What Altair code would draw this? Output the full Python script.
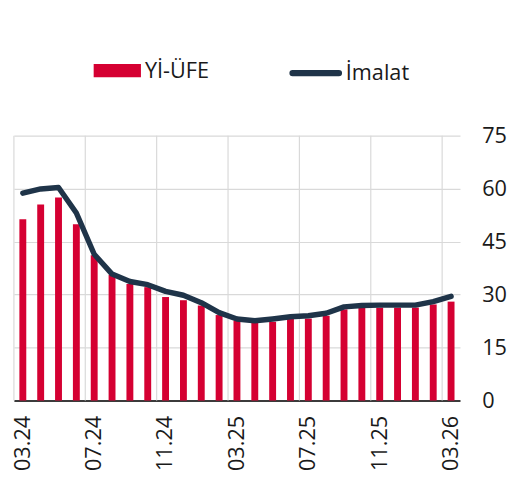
import altair as alt
import pandas as pd

months = ["03.24", "04.24", "05.24", "06.24", "07.24", "08.24", "09.24", "10.24",
          "11.24", "12.24", "01.25", "02.25", "03.25", "04.25", "05.25", "06.25",
          "07.25", "08.25", "09.25", "10.25", "11.25", "12.25", "01.26", "02.26", "03.26"]
yi_ufe = [51.3, 55.5, 57.5, 49.9, 41.1, 35.6, 33.0, 32.1, 29.3, 28.4, 26.9, 24.2, 22.6,
          22.1, 22.3, 23.1, 23.2, 24.0, 25.8, 26.3, 26.3, 26.3, 26.3, 27.2, 28.0]
imalat = [58.7, 59.9, 60.3, 53.1, 41.4, 35.8, 33.7, 32.8, 30.9, 29.8, 27.7, 24.9, 23.1,
          22.6, 23.1, 23.7, 24.0, 24.7, 26.5, 26.9, 27.0, 27.0, 27.0, 28.0, 29.5]
tick_months = ["03.24", "07.24", "11.24", "03.25", "07.25", "11.25", "03.26"]
y_ticks = [0, 15, 30, 45, 60, 75]

FONT = "Open Sans"
RED = "#d50032"
NAVY = "#1f3449"
TXT = "#1a1a1a"
FS = 22

df = pd.DataFrame({"month": months, "ufe": yi_ufe, "imalat": imalat})
grid_df = pd.DataFrame({"month": tick_months})

xscale = alt.Scale(domain=months, paddingInner=0, paddingOuter=0)
xaxis = alt.Axis(values=tick_months, labelAngle=-90, labelFontSize=FS, labelFont=FONT,
                 labelColor=TXT, ticks=False, grid=False, domainColor="#000000",
                 domainWidth=1.5, labelPadding=15, title=None)
yscale = alt.Scale(domain=[0, 75], nice=False, zero=True)
yaxis = alt.Axis(orient="right", values=y_ticks, labelFontSize=FS, labelFont=FONT,
                 labelColor=TXT, ticks=False, domain=False, gridColor="#d9d9d9",
                 gridWidth=1.2, labelPadding=22, title=None)

vgrid = alt.Chart(grid_df).mark_rule(color="#d9d9d9", strokeWidth=1.2).encode(
    x=alt.X("month:O", scale=xscale, axis=xaxis, bandPosition=0)
)

bars = alt.Chart(df).transform_calculate(series="'Yİ-ÜFE'").mark_bar(width=7).encode(
    x=alt.X("month:O", scale=xscale, axis=xaxis),
    y=alt.Y("ufe:Q", scale=yscale, axis=yaxis),
    color=alt.Color("series:N", scale=alt.Scale(domain=["Yİ-ÜFE"], range=[RED]),
                    legend=alt.Legend(orient="none", legendX=81, legendY=-90, title=None,
                                      symbolType="M-1,-0.28H1V0.28H-1Z", symbolSize=2304,
                                      symbolStrokeWidth=0, labelFontSize=FS, labelFont=FONT,
                                      labelColor=TXT, labelOffset=4, padding=0)),
)

stadium = "M-1,-0.01H1A0.01,0.01 0 0 1 1,0.01H-1A0.01,0.01 0 0 1 -1,-0.01Z"
line = alt.Chart(df).transform_calculate(series="'İmalat'").mark_line(
    strokeWidth=5.5, strokeCap="round", strokeJoin="round").encode(
    x=alt.X("month:O", scale=xscale, axis=xaxis),
    y=alt.Y("imalat:Q", scale=yscale, axis=yaxis),
    stroke=alt.Stroke("series:N", scale=alt.Scale(domain=["İmalat"], range=[NAVY]),
                      legend=alt.Legend(orient="none", legendX=280, legendY=-90, title=None,
                                        symbolType=stadium, symbolSize=2209,
                                        symbolStrokeWidth=6, labelFontSize=FS, labelFont=FONT,
                                        labelColor=TXT, labelOffset=4, padding=0)),
)

chart = alt.layer(vgrid, bars, line).properties(
    width=453, height=269,
    autosize=alt.AutoSizeParams(type="none"),
    padding={"left": 6, "top": 126, "right": 65, "bottom": 70},
).configure_view(stroke=None)

chart.save("out.html", embed_options={"renderer": "svg", "actions": False})
